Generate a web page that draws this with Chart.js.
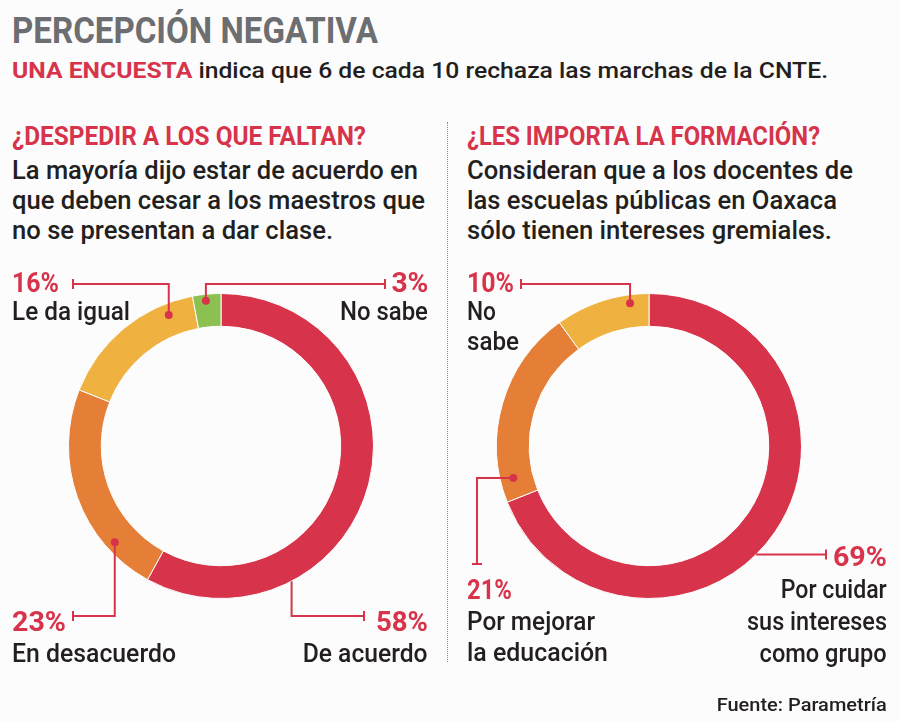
<!DOCTYPE html>
<html>
<head>
<meta charset="utf-8">
<script src="https://cdn.jsdelivr.net/npm/chart.js@4.4.0/dist/chart.umd.min.js"></script>
<style>
body{margin:0;background:#fcfcfc;}
#page{position:relative;width:900px;height:722px;overflow:hidden;font-family:Roboto,"Noto Sans",sans-serif;font-weight:500;color:#231f20;}
.t{position:absolute;white-space:nowrap;}
.l{transform-origin:left center;}
.r{transform-origin:right center;}
.red{color:#d7344b;}
.b{font-weight:700;}
canvas{position:absolute;}
#divider{position:absolute;left:447px;top:122px;height:540px;border-left:1.5px dotted #8a8a8a;}
</style>
</head>
<body>
<div id="page">
  <canvas id="leftChart" width="447" height="420" style="left:0;top:260px"></canvas>
  <canvas id="rightChart" width="450" height="420" style="left:450px;top:260px"></canvas>
  <div id="divider"></div>

  <div class="t l b" style="left:12px;top:13px;font-size:36px;line-height:36px;color:#6d6e71" data-w="366">PERCEPCIÓN NEGATIVA</div>
  <div class="t l" style="left:12px;top:60px;font-size:22px;line-height:22px" data-w="816"><span class="red b">UNA ENCUESTA</span> indica que 6 de cada 10 rechaza las marchas de la CNTE.</div>

  <div class="t l b red" style="left:12px;top:124px;font-size:25px;line-height:25px" data-w="354">¿DESPEDIR A LOS QUE FALTAN?</div>
  <div class="t l" style="left:12px;top:158px;font-size:25px;line-height:25px" data-w="406">La mayoría dijo estar de acuerdo en</div>
  <div class="t l" style="left:12px;top:188px;font-size:25px;line-height:25px" data-w="413">que deben cesar a los maestros que</div>
  <div class="t l" style="left:12px;top:218px;font-size:25px;line-height:25px" data-w="321">no se presentan a dar clase.</div>

  <div class="t l b red" style="left:467px;top:124px;font-size:25px;line-height:25px" data-w="353">¿LES IMPORTA LA FORMACIÓN?</div>
  <div class="t l" style="left:467px;top:158px;font-size:25px;line-height:25px" data-w="386">Consideran que a los docentes de</div>
  <div class="t l" style="left:467px;top:188px;font-size:25px;line-height:25px" data-w="370">las escuelas públicas en Oaxaca</div>
  <div class="t l" style="left:467px;top:218px;font-size:25px;line-height:25px" data-w="365">sólo tienen intereses gremiales.</div>

  <!-- left labels -->
  <div class="t l b red" id="pctL2" style="left:12px;top:270px;font-size:27px;line-height:27px" data-w="47"></div>
  <div class="t l" style="left:12px;top:299px;font-size:25px;line-height:25px" data-w="118">Le da igual</div>
  <div class="t r b red" id="pctL3" style="right:472px;top:270px;font-size:27px;line-height:27px" data-w="37"></div>
  <div class="t r" style="right:472px;top:299px;font-size:25px;line-height:25px" data-w="88">No sabe</div>
  <div class="t l b red" id="pctL1" style="left:12px;top:609px;font-size:27px;line-height:27px" data-w="54"></div>
  <div class="t l" style="left:12px;top:641px;font-size:25px;line-height:25px" data-w="164">En desacuerdo</div>
  <div class="t r b red" id="pctL0" style="right:472px;top:609px;font-size:27px;line-height:27px" data-w="52"></div>
  <div class="t r" style="right:472px;top:641px;font-size:25px;line-height:25px" data-w="125">De acuerdo</div>

  <!-- right labels -->
  <div class="t l b red" id="pctR2" style="left:467px;top:270px;font-size:27px;line-height:27px" data-w="47"></div>
  <div class="t l" style="left:467px;top:299px;font-size:25px;line-height:25px" data-w="29">No</div>
  <div class="t l" style="left:467px;top:329px;font-size:25px;line-height:25px" data-w="52">sabe</div>
  <div class="t l b red" id="pctR1" style="left:467px;top:577px;font-size:27px;line-height:27px" data-w="45"></div>
  <div class="t l" style="left:467px;top:609px;font-size:25px;line-height:25px" data-w="128">Por mejorar</div>
  <div class="t l" style="left:467px;top:640px;font-size:25px;line-height:25px" data-w="141">la educación</div>
  <div class="t r b red" id="pctR0" style="right:13px;top:544px;font-size:27px;line-height:27px" data-w="54"></div>
  <div class="t r" style="right:13px;top:577px;font-size:25px;line-height:25px" data-w="106">Por cuidar</div>
  <div class="t r" style="right:13px;top:609px;font-size:25px;line-height:25px" data-w="140">sus intereses</div>
  <div class="t r" style="right:13px;top:641px;font-size:25px;line-height:25px" data-w="127">como grupo</div>

  <div class="t r" style="right:13px;top:695px;font-size:19px;line-height:19px" data-w="170">Fuente: Parametría</div>
</div>

<script>
// datos
const leftLabels = ['De acuerdo', 'En desacuerdo', 'Le da igual', 'No sabe'];
const leftValues = [58, 23, 16, 3];
const rightLabels = ['Por cuidar sus intereses como grupo', 'Por mejorar la educación', 'No sabe'];
const rightValues = [69, 21, 10];

const leftColors = ['#d7344b', '#e57f38', '#efb241', '#8cc152'];
const rightColors = ['#d7344b', '#e57f38', '#efb241'];
const lineRed = '#d7344b';

// porcentajes
leftValues.forEach(function(v, i){ document.getElementById('pctL' + i).textContent = v + '%'; });
rightValues.forEach(function(v, i){ document.getElementById('pctR' + i).textContent = v + '%'; });

// ajustar ancho del texto (fuente condensada)
document.querySelectorAll('.t[data-w]').forEach(function(el){
    let w = el.getBoundingClientRect().width;
    let target = parseFloat(el.dataset.w);
    if (w > 0) el.style.transform = 'scaleX(' + (target / w) + ')';
});

// lineas guia: posicion sobre el arco (f = fraccion del angulo, rf = fraccion del grosor)
function leaderPlugin(leaders){
    return {
        id: 'leaders',
        afterDraw: function(chart){
            let ctx = chart.ctx;
            let arcs = chart.getDatasetMeta(0).data;
            ctx.save();
            ctx.strokeStyle = lineRed;
            ctx.fillStyle = lineRed;
            ctx.lineWidth = 2;
            leaders.forEach(function(ld){
                let p = arcs[ld.seg].getProps(['x', 'y', 'startAngle', 'endAngle', 'innerRadius', 'outerRadius'], true);
                let a = p.startAngle + ld.f * (p.endAngle - p.startAngle);
                let r = p.innerRadius + ld.rf * (p.outerRadius - p.innerRadius);
                let x0 = p.x + r * Math.cos(a);
                let y0 = p.y + r * Math.sin(a);
                let x = x0, y = y0;
                ctx.beginPath();
                ctx.moveTo(x, y);
                let last = 'h';
                ld.path.forEach(function(step){
                    if (step[0] == 'v') { y = step[1]; } else { x = step[1]; }
                    last = step[0];
                    ctx.lineTo(x, y);
                });
                ctx.stroke();
                // tope
                ctx.beginPath();
                if (last == 'h') { ctx.moveTo(x, y - 5); ctx.lineTo(x, y + 5); }
                else { ctx.moveTo(x - 5, y); ctx.lineTo(x + 5, y); }
                ctx.stroke();
                if (ld.dot) {
                    ctx.beginPath();
                    ctx.arc(x0, y0, 4, 0, Math.PI * 2);
                    ctx.fill();
                }
            });
            ctx.restore();
        }
    };
}

function makeDonut(id, labels, values, colors, padding, leaders){
    return new Chart(document.getElementById(id), {
        type: 'doughnut',
        data: {
            labels: labels,
            datasets: [{
                data: values,
                backgroundColor: colors,
                borderColor: '#fcfcfc',
                borderWidth: 1
            }]
        },
        options: {
            responsive: false,
            animation: false,
            cutout: '78.5%',
            layout: { padding: padding },
            plugins: { legend: { display: false }, tooltip: { enabled: false } }
        },
        plugins: [leaderPlugin(leaders)]
    });
}

let leftChart = makeDonut('leftChart', leftLabels, leftValues, leftColors,
    { left: 68, right: 73, top: 33, bottom: 81 },
    [
        { seg: 0, f: 0.73, rf: 1.0, dot: false, path: [['v', 356], ['h', 364]] },
        { seg: 1, f: 0.23, rf: 0.72, dot: true, path: [['v', 356], ['h', 73]] },
        { seg: 2, f: 0.81, rf: 0.65, dot: true, path: [['v', 24], ['h', 73]] },
        { seg: 3, f: 0.45, rf: 0.8, dot: true, path: [['v', 24], ['h', 385]] }
    ]);

let rightChart = makeDonut('rightChart', rightLabels, rightValues, rightColors,
    { left: 46, right: 98, top: 33, bottom: 81 },
    [
        { seg: 0, f: 0.545, rf: 1.0, dot: false, path: [['h', 376]] },
        { seg: 1, f: 0.11, rf: 0.6, dot: true, path: [['h', 27], ['v', 304]] },
        { seg: 2, f: 0.79, rf: 0.74, dot: true, path: [['v', 24], ['h', 71]] }
    ]);
</script>
</body>
</html>
